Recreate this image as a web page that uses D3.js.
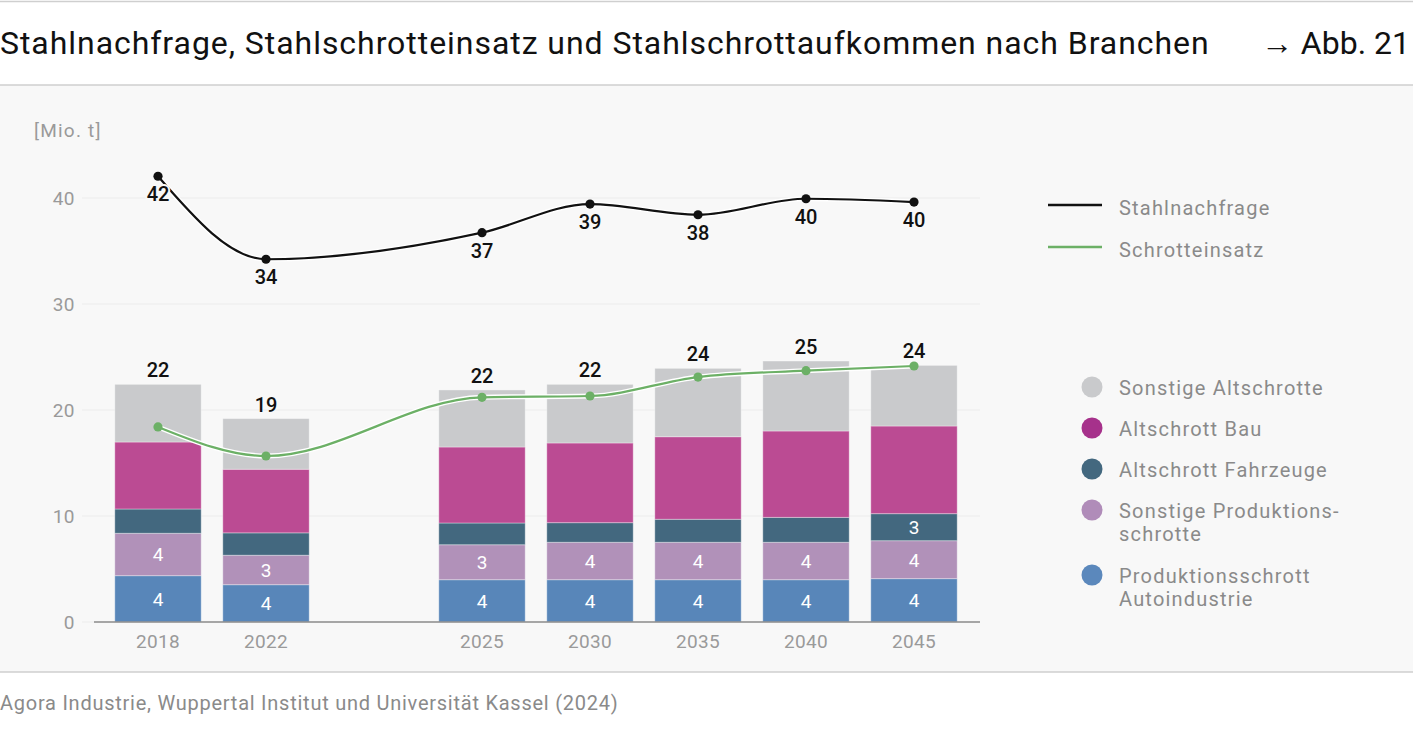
<!DOCTYPE html>
<html><head><meta charset="utf-8">
<script src="https://cdn.jsdelivr.net/npm/d3@7/dist/d3.min.js"></script>
<style>
html,body{margin:0;padding:0;background:#fff;}
svg{display:block;font-family:Roboto,"Noto Sans",sans-serif;}
</style></head>
<body>
<svg id="chart" width="1413" height="732"></svg>
<script>
// ---- data ----
const years = ["2018","2022","2025","2030","2035","2040","2045"];
const bandCategories = ["2018","2022","gap","2025","2030","2035","2040","2045"];
const prodAuto      = [4.37, 3.52, 3.99, 3.99, 3.99, 3.99, 4.09];
const prodSonstige  = [4.00, 2.78, 3.30, 3.53, 3.53, 3.53, 3.58];
const altFahrzeuge  = [2.29, 2.11, 2.05, 1.85, 2.17, 2.35, 2.55];
const altBau        = [6.32, 6.00, 7.17, 7.52, 7.79, 8.15, 8.27];
const altSonstige   = [5.44, 4.78, 5.38, 5.53, 6.45, 6.60, 5.72];
const stahlnachfrage = [42.05, 34.22, 36.73, 39.43, 38.42, 39.93, 39.62];
const schrotteinsatz = [18.40, 15.66, 21.20, 21.32, 23.11, 23.71, 24.15];
const yTicks = [0, 10, 20, 30, 40];

const seriesDefs = [
  {key:"prodAuto",     values:prodAuto,     name:["Produktionsschrott","Autoindustrie"], color:"#5886b9", legendColor:"#5b88bc", labelMin:0},
  {key:"prodSonstige", values:prodSonstige, name:["Sonstige Produktions-","schrotte"], color:"#b191b9", legendColor:"#b08cb9", labelMin:0},
  {key:"altFahrzeuge", values:altFahrzeuge, name:["Altschrott Fahrzeuge"], color:"#43687f", legendColor:"#43687f", labelMin:2.5},
  {key:"altBau",       values:altBau,       name:["Altschrott Bau"], color:"#bb4b93", legendColor:"#a6318b", labelMin:Infinity},
  {key:"altSonstige",  values:altSonstige,  name:["Sonstige Altschrotte"], color:"#c9cacc", legendColor:"#c9cacc", labelMin:Infinity}
];

const table = years.map((y,i) => {
  const o = {year:y};
  seriesDefs.forEach(s => o[s.key] = s.values[i]);
  return o;
});

const svg = d3.select("#chart");
const W = 1413, H = 732;

// ---- frame ----
svg.append("rect").attr("x",0).attr("y",0).attr("width",W).attr("height",H).attr("fill","#fff");
svg.append("rect").attr("x",0).attr("y",85).attr("width",W).attr("height",587).attr("fill","#f8f8f8");
[1.5, 85, 672].forEach(y => svg.append("line").attr("x1",0).attr("x2",W).attr("y1",y).attr("y2",y)
  .attr("stroke","#cfcfcf").attr("stroke-width",1.5));

svg.append("text").attr("x",0).attr("y",54).attr("font-size",32).attr("fill","#111")
  .attr("letter-spacing","0.95px")
  .text("Stahlnachfrage, Stahlschrotteinsatz und Stahlschrottaufkommen nach Branchen");
svg.append("text").attr("x",1410).attr("y",54).attr("font-size",32).attr("fill","#111")
  .attr("text-anchor","end").text("→ Abb. 21");
svg.append("text").attr("x",0).attr("y",710).attr("font-size",20).attr("fill","#8a8a8a")
  .attr("letter-spacing","0.75px")
  .text("Agora Industrie, Wuppertal Institut und Universität Kassel (2024)");
svg.append("text").attr("x",34).attr("y",137).attr("font-size",19).attr("fill","#9a9a9a")
  .attr("letter-spacing","1.2px")
  .text("[Mio. t]");

// ---- scales ----
const x = d3.scaleBand().domain(bandCategories).range([104, 968]).paddingInner(0.2).paddingOuter(0.1);
const y = d3.scaleLinear().domain([0, 40]).range([622, 198]);
const cx = d => x(d) + x.bandwidth()/2;

// grid + y axis
const yAxis = d3.axisLeft(y).tickValues(yTicks).tickSize(0).tickPadding(0);
const gy = svg.append("g").attr("transform","translate(75,0)").call(yAxis);
gy.select(".domain").remove();
gy.selectAll("text").attr("font-size",19).attr("fill","#9a9a9a").attr("font-family","Roboto,sans-serif").attr("letter-spacing","0.5px");
svg.append("g").selectAll("line").data(yTicks).join("line")
  .attr("x1",82).attr("x2",980).attr("y1",d=>y(d)).attr("y2",d=>y(d))
  .attr("stroke","#ececec").attr("stroke-width",1.2);

// ---- stacked bars ----
const stack = d3.stack().keys(seriesDefs.map(s=>s.key));
const stacked = stack(table);
const gBars = svg.append("g");
stacked.forEach((layer, li) => {
  const def = seriesDefs[li];
  gBars.append("g").selectAll("rect").data(layer).join("rect")
    .attr("x", d => x(d.data.year))
    .attr("width", x.bandwidth())
    .attr("y", d => y(d[1]))
    .attr("height", d => y(d[0]) - y(d[1]))
    .attr("fill", def.color)
    .attr("stroke","#ffffff").attr("stroke-opacity",0.35).attr("stroke-width",1);
});
// segment labels
stacked.forEach((layer, li) => {
  const def = seriesDefs[li];
  svg.append("g").selectAll("text").data(layer.filter(d => (d[1]-d[0]) >= def.labelMin)).join("text")
    .attr("x", d => cx(d.data.year))
    .attr("y", d => (y(d[0]) + y(d[1]))/2)
    .attr("dy","0.36em")
    .attr("text-anchor","middle").attr("font-size",19).attr("fill","#fff")
    .text(d => Math.round(d[1]-d[0]));
});

// x axis
svg.append("line").attr("x1",94).attr("x2",980).attr("y1",y(0)).attr("y2",y(0))
  .attr("stroke","#8c8c8c").attr("stroke-width",1.5);
const xAxis = d3.axisBottom(x).tickSize(0).tickPadding(13).tickFormat(d => d === "gap" ? "" : d);
const gx = svg.append("g").attr("transform",`translate(0,${y(0)})`).call(xAxis);
gx.select(".domain").remove();
gx.selectAll("text").attr("font-size",19).attr("fill","#9a9a9a").attr("font-family","Roboto,sans-serif").attr("letter-spacing","0.3px");

// totals
const totals = table.map(d => ({year:d.year, total:d3.sum(seriesDefs, s => d[s.key])}));
svg.append("g").selectAll("text").data(totals).join("text")
  .attr("x", d => cx(d.year)).attr("y", d => y(d.total) - 7)
  .attr("text-anchor","middle").attr("font-size",20).attr("font-weight",500).attr("fill","#111")
  .text(d => Math.round(d.total));

// ---- lines ----
const lineGen = d3.line().x(d => cx(d.year)).y(d => y(d.v)).curve(d3.curveMonotoneX);
const scrapPts = years.map((yr,i) => ({year:yr, v:schrotteinsatz[i]}));
const demandPts = years.map((yr,i) => ({year:yr, v:stahlnachfrage[i]}));

function drawLine(pts, color){
  svg.append("path").datum(pts).attr("d", lineGen).attr("fill","none")
    .attr("stroke","#fff").attr("stroke-width",5).attr("stroke-linejoin","round");
  svg.append("path").datum(pts).attr("d", lineGen).attr("fill","none")
    .attr("stroke",color).attr("stroke-width",2.2);
  svg.append("g").selectAll("circle").data(pts).join("circle")
    .attr("cx", d => cx(d.year)).attr("cy", d => y(d.v)).attr("r",4.6).attr("fill",color);
}
drawLine(scrapPts, "#6cb066");
drawLine(demandPts, "#111");
svg.append("g").selectAll("text").data(demandPts).join("text")
  .attr("x", d => cx(d.year)).attr("y", d => y(d.v) + 25)
  .attr("text-anchor","middle").attr("font-size",20).attr("font-weight",500).attr("fill","#111")
  .attr("stroke","#f8f8f8").attr("stroke-width",4).attr("paint-order","stroke").attr("stroke-linejoin","round")
  .text(d => Math.round(d.v));

// ---- legend ----
const lineLegend = [
  {name:"Stahlnachfrage", color:"#111", y:205},
  {name:"Schrotteinsatz", color:"#6cb066", y:247}
];
lineLegend.forEach(l => {
  svg.append("line").attr("x1",1048).attr("x2",1102).attr("y1",l.y).attr("y2",l.y)
    .attr("stroke",l.color).attr("stroke-width",2.5);
  svg.append("text").attr("x",1119).attr("y",l.y+10).attr("font-size",20).attr("fill","#8a8a8a")
    .attr("letter-spacing","1.2px").text(l.name);
});
const dotY = [575, 510, 469, 428, 387];
seriesDefs.forEach((s, i) => {
  const yy = dotY[i];
  svg.append("circle").attr("cx",1092).attr("cy",yy).attr("r",10.5).attr("fill",s.legendColor);
  const t = svg.append("text").attr("x",1119).attr("y",yy+8).attr("font-size",20).attr("fill","#8a8a8a")
    .attr("letter-spacing","1.2px");
  s.name.forEach((ln, k) => t.append("tspan").attr("x",1119).attr("dy", k===0 ? 0 : 23).text(ln));
});
</script>
</body></html>
